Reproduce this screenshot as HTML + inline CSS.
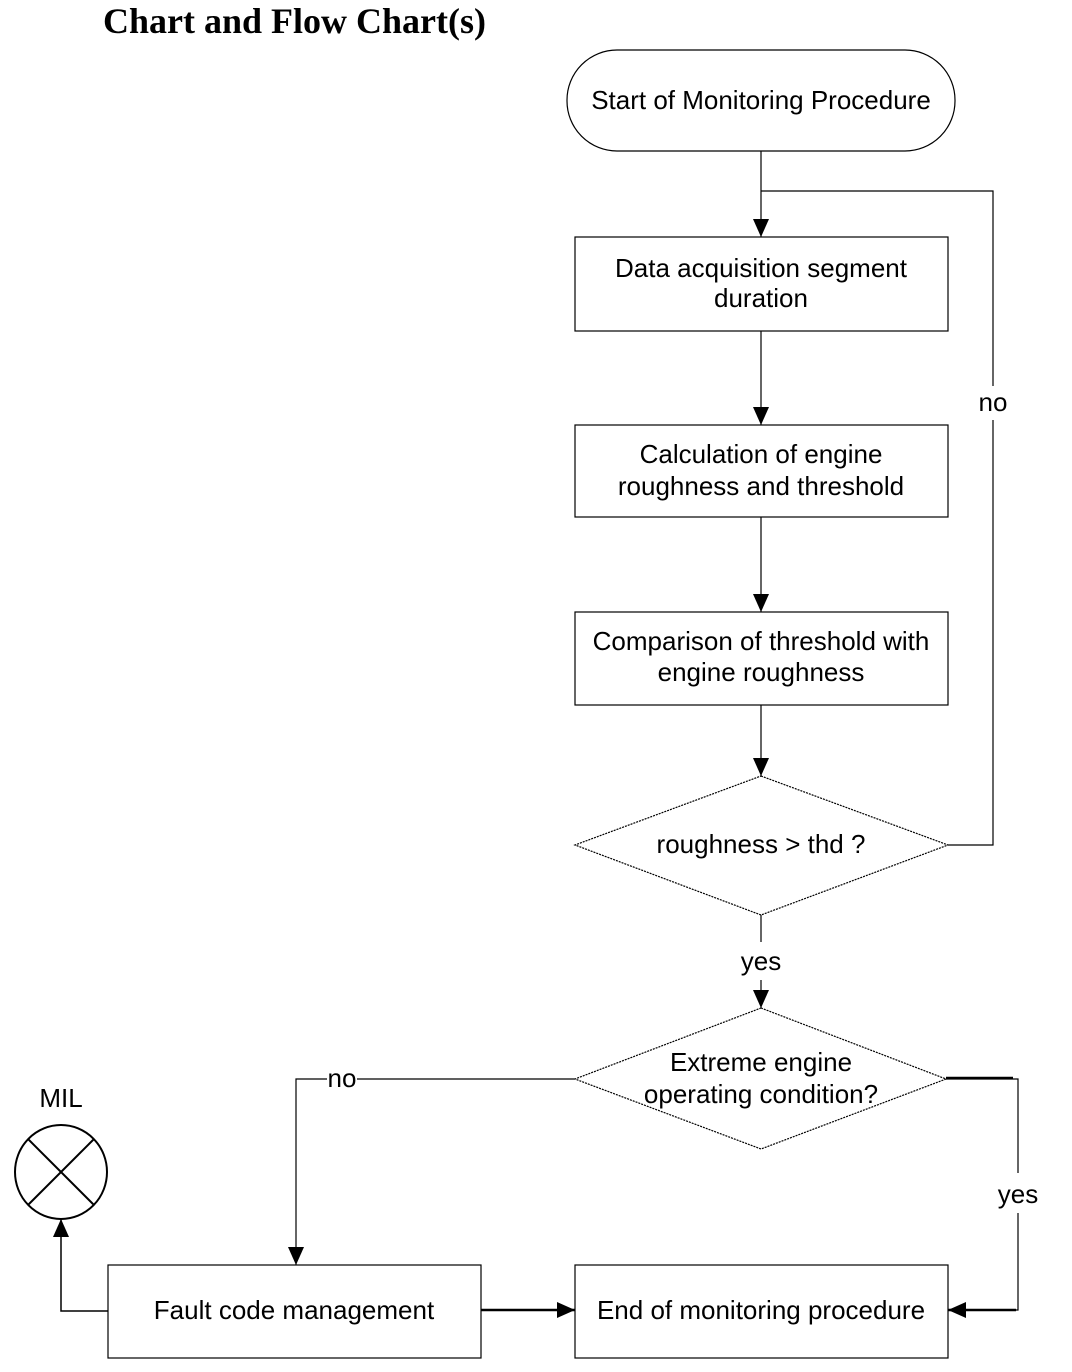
<!DOCTYPE html>
<html><head><meta charset="utf-8"><style>
html,body{margin:0;padding:0;background:#fff;}
svg{display:block;}
text{font-family:"Liberation Sans",sans-serif;font-size:26px;fill:#000;}
</style></head><body>
<svg width="1072" height="1372" viewBox="0 0 1072 1372" xmlns="http://www.w3.org/2000/svg">
<defs>
<marker id="a" markerWidth="18" markerHeight="16" refX="18" refY="8" orient="auto" markerUnits="userSpaceOnUse" viewBox="0 0 18 16">
<path d="M0,0 L18,8 L0,16 z" fill="#000"/></marker>
</defs>
<text x="103" y="33" style="font-family:'Liberation Serif',serif;font-weight:bold;font-size:36px">Chart and Flow Chart(s)</text>
<g fill="none" stroke="#000" stroke-width="1.2">
<rect x="567" y="50" width="388" height="101" rx="50" ry="50"/>
<rect x="575" y="237" width="373" height="94"/>
<rect x="575" y="425" width="373" height="92"/>
<rect x="575" y="612" width="373" height="93"/>
<polygon points="761,776 948,845 761,915 575,845" stroke-dasharray="2,1"/>
<polygon points="761,1008 946,1079 761,1149 575,1079" stroke-dasharray="2,1"/>
<rect x="108" y="1265" width="373" height="93"/>
<rect x="575" y="1265" width="373" height="93"/>
<ellipse cx="61" cy="1172" rx="46" ry="47" stroke-width="2"/>
<line x1="28" y1="1139" x2="94" y2="1205" stroke-width="2"/>
<line x1="94" y1="1139" x2="28" y2="1205" stroke-width="2"/>
<line x1="761" y1="151" x2="761" y2="237" marker-end="url(#a)"/>
<polyline points="948,845 993,845 993,420"/>
<polyline points="993,386 993,191 761,191"/>
<line x1="761" y1="331" x2="761" y2="425" marker-end="url(#a)"/>
<line x1="761" y1="517" x2="761" y2="612" marker-end="url(#a)"/>
<line x1="761" y1="705" x2="761" y2="776" marker-end="url(#a)"/>
<line x1="761" y1="915" x2="761" y2="942"/>
<line x1="761" y1="980" x2="761" y2="1008" marker-end="url(#a)"/>
<polyline points="575,1079 357,1079"/>
<polyline points="327,1079 296,1079 296,1265" marker-end="url(#a)"/>
<polyline points="946,1079 1018,1079 1018,1173"/>
<line x1="946" y1="1078" x2="1013" y2="1078" stroke-width="2.5"/>
<polyline points="1018,1213 1018,1310 1000,1310"/>
<line x1="1016" y1="1310" x2="948" y2="1310" stroke-width="2.5" marker-end="url(#a)"/>
<line x1="481" y1="1310" x2="575" y2="1310" stroke-width="2.5" marker-end="url(#a)"/>
<polyline points="108,1311 61,1311 61,1219" stroke-width="1.5" marker-end="url(#a)"/>
</g>
<g text-anchor="middle">
<text x="761" y="109">Start of Monitoring Procedure</text>
<text x="761" y="277">Data acquisition segment</text>
<text x="761" y="307">duration</text>
<text x="761" y="463">Calculation of engine</text>
<text x="761" y="495">roughness and threshold</text>
<text x="761" y="650">Comparison of threshold with</text>
<text x="761" y="681">engine roughness</text>
<text x="761" y="853">roughness &gt;  thd ?</text>
<text x="761" y="970">yes</text>
<text x="761" y="1071">Extreme engine</text>
<text x="761" y="1103">operating condition?</text>
<text x="993" y="411">no</text>
<text x="342" y="1087">no</text>
<text x="1018" y="1203">yes</text>
<text x="61" y="1107">MIL</text>
<text x="294" y="1319">Fault code management</text>
<text x="761" y="1319">End of monitoring procedure</text>
</g>
</svg>
</body></html>
